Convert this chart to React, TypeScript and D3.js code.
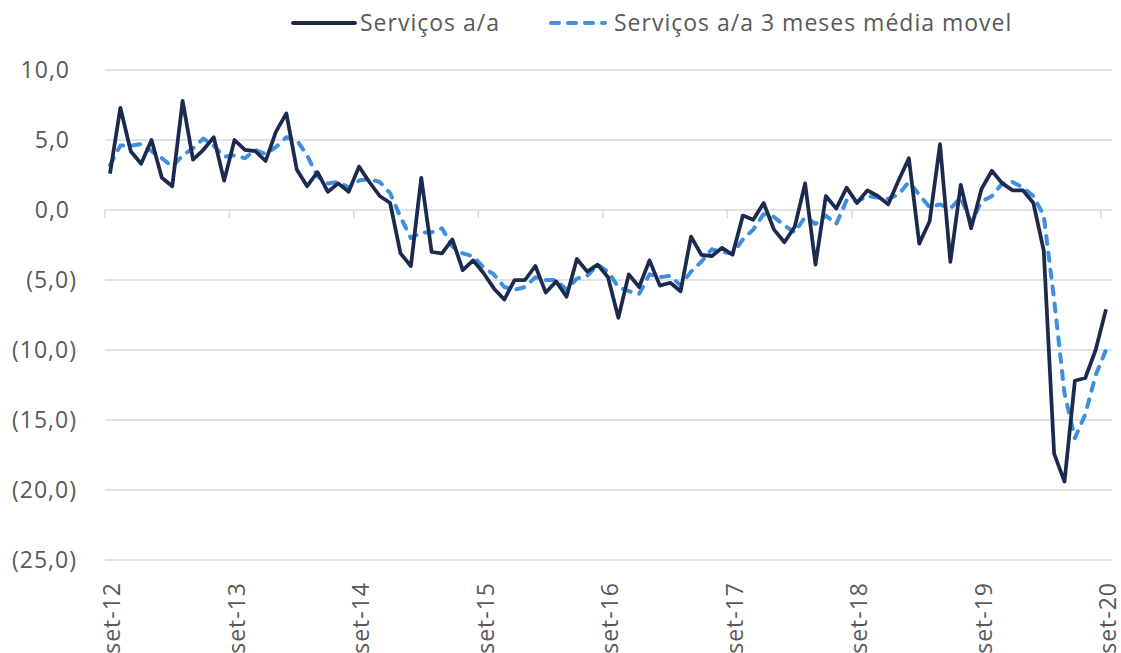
import * as d3 from "d3";

// monthly, set-12 .. set-20
const servicos = [
  2.6, 7.3, 4.2, 3.3, 5.0, 2.3, 1.7, 7.8, 3.6, 4.3, 5.2, 2.1,
  5.0, 4.3, 4.2, 3.5, 5.6, 6.9, 2.9, 1.7, 2.7, 1.3, 1.9, 1.3,
  3.1, 2.0, 1.0, 0.5, -3.1, -4.0, 2.3, -3.0, -3.1, -2.1, -4.3, -3.6,
  -4.5, -5.6, -6.4, -5.0, -5.0, -4.0, -5.9, -5.1, -6.2, -3.5, -4.4, -3.9,
  -4.8, -7.7, -4.6, -5.5, -3.6, -5.4, -5.2, -5.8, -1.9, -3.2, -3.3, -2.7,
  -3.2, -0.4, -0.7, 0.5, -1.4, -2.3, -1.2, 1.9, -3.9, 1.0, 0.1, 1.6,
  0.5, 1.4, 1.0, 0.4, 2.1, 3.7, -2.4, -0.8, 4.7, -3.7, 1.8, -1.3,
  1.5, 2.8, 1.9, 1.4, 1.4, 0.5, -2.9, -17.4, -19.4, -12.2, -12.0, -10.0,
  -7.1,
];

const mediaMovel = [
  3.2, 4.6, 4.6, 4.7, 4.2, 3.7, 3.1, 3.9, 4.4, 5.1, 4.6, 3.8,
  3.9, 3.7, 4.3, 4.0, 4.5, 5.2, 5.0, 3.9, 2.4, 1.9, 2.0, 1.6,
  2.1, 2.2, 2.0, 1.2, -0.5, -2.0, -1.6, -1.6, -1.3, -2.6, -3.1, -3.3,
  -4.1, -4.6, -5.5, -5.7, -5.5, -4.8, -5.0, -5.0, -5.7, -4.9, -4.7, -3.9,
  -4.4, -5.5, -5.8, -6.0, -4.6, -4.8, -4.7, -5.4, -4.4, -3.7, -2.8, -3.0,
  -3.1, -2.1, -1.4, -0.3, -0.5, -1.1, -1.6, -0.5, -1.0, -0.4, -1.0, 0.7,
  0.6, 1.0, 0.9, 0.8, 1.1, 2.0, 1.1, 0.2, 0.4, 0.1, 0.9, -0.9,
  0.6, 1.0, 1.9, 2.0, 1.6, 1.0, -0.4, -6.4, -13.1, -16.3, -14.6, -11.8,
  -10.0,
];

const xLabels = ["set-12", "set-13", "set-14", "set-15", "set-16", "set-17", "set-18", "set-19", "set-20"];
const yTicks = [10, 5, 0, -5, -10, -15, -20, -25];

const seriesNames = ["Serviços a/a", "Serviços a/a 3 meses média movel"];

const W = 1121;
const H = 653;
const font = "'Open Sans', Lato, sans-serif";
const fs = 23;
const ls = 1;
const textColor = "#595959";
const gridColor = "#d9d9d9";
const solidColor = "#1b2a4e";
const dashColor = "#3d8fe0";

const fmt = (v: number) => {
  const s = d3.format(".1f")(Math.abs(v)).replace(".", ",");
  return v < 0 ? `(${s})` : s;
};

export default function App() {
  const x = d3.scaleLinear().domain([0, servicos.length - 1]).range([110, 1106]);
  const y = d3.scaleLinear().domain([-25, 10]).range([560, 70]);
  const half = (x(1) - x(0)) / 2;

  const line = d3
    .line<number>()
    .x((_, i) => x(i))
    .y((d) => y(d));

  return (
    <svg
      width={W}
      height={H}
      style={{ position: "absolute", left: 0, top: 0, background: "#fff" }}
      fontFamily={font}
    >
      {/* grid */}
      {yTicks.map((t) => (
        <line key={t} x1={105} x2={1112} y1={y(t)} y2={y(t)} stroke={gridColor} strokeWidth={1.5} />
      ))}
      {yTicks.map((t) => (
        <text
          key={"l" + t}
          x={t < 0 ? 77 : 70}
          y={y(t)}
          dy="0.36em"
          textAnchor="end"
          fontSize={fs}
          letterSpacing={ls}
          fill={textColor}
        >
          {fmt(t)}
        </text>
      ))}

      {/* x axis ticks on zero line */}
      {xLabels.map((lab, k) => {
        const tx = x(k * 12) - half;
        return (
          <g key={lab}>
            <line x1={tx} x2={tx} y1={y(0)} y2={y(0) + 8} stroke={gridColor} strokeWidth={1.5} />
            <text
              transform={`translate(${x(k * 12) + 2},582) rotate(-90)`}
              dy="0.36em"
              textAnchor="end"
              fontSize={fs}
              letterSpacing={ls}
              fill={textColor}
            >
              {lab}
            </text>
          </g>
        );
      })}

      <path
        d={line(mediaMovel) ?? ""}
        fill="none"
        stroke={dashColor}
        strokeWidth={4}
        strokeDasharray="8 9"
        strokeLinecap="round"
        strokeLinejoin="round"
      />
      <path
        d={line(servicos) ?? ""}
        fill="none"
        stroke={solidColor}
        strokeWidth={3.75}
        strokeLinejoin="round"
      />

      {/* legend */}
      <line x1={293} x2={355} y1={23} y2={23} stroke={solidColor} strokeWidth={4} strokeLinecap="round" />
      <text x={360} y={23} dy="0.36em" fontSize={fs} letterSpacing={ls} fill={textColor}>
        {seriesNames[0]}
      </text>
      <line
        x1={551}
        x2={605}
        y1={23}
        y2={23}
        stroke={dashColor}
        strokeWidth={4}
        strokeDasharray="8 9"
        strokeLinecap="round"
      />
      <text x={614} y={23} dy="0.36em" fontSize={fs} letterSpacing={ls} fill={textColor}>
        {seriesNames[1]}
      </text>
    </svg>
  );
}
